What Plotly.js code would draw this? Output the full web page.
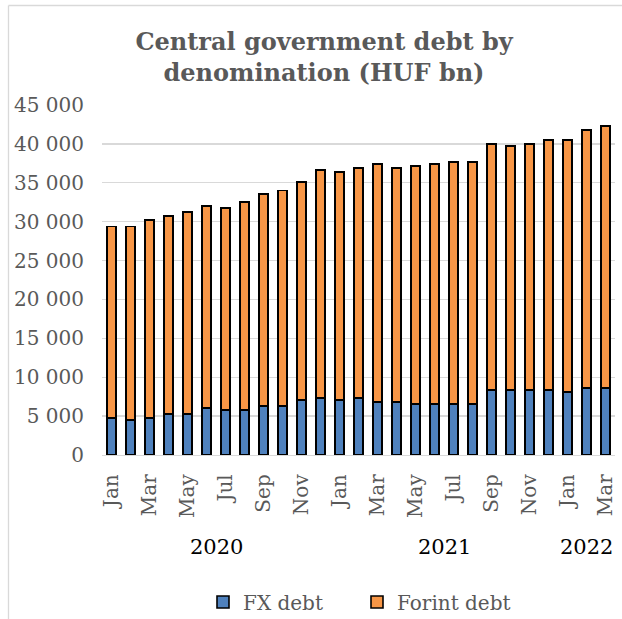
<!DOCTYPE html>
<html>
<head>
<meta charset="utf-8">
<script src="https://cdn.plot.ly/plotly-3.0.1.min.js"></script>
<style>
  html, body { margin: 0; padding: 0; background: #ffffff; }
  #chart { width: 622px; height: 619px; }
</style>
</head>
<body>
<div id="chart"></div>
<script>
// ---- Data (HUF bn), Jan 2020 – Mar 2022 ----
var categories = [
  "Jan 2020","Feb 2020","Mar 2020","Apr 2020","May 2020","Jun 2020",
  "Jul 2020","Aug 2020","Sep 2020","Oct 2020","Nov 2020","Dec 2020",
  "Jan 2021","Feb 2021","Mar 2021","Apr 2021","May 2021","Jun 2021",
  "Jul 2021","Aug 2021","Sep 2021","Oct 2021","Nov 2021","Dec 2021",
  "Jan 2022","Feb 2022","Mar 2022"
];
var monthLabels = [
  "Jan","Feb","Mar","Apr","May","Jun","Jul","Aug","Sep","Oct","Nov","Dec",
  "Jan","Feb","Mar","Apr","May","Jun","Jul","Aug","Sep","Oct","Nov","Dec",
  "Jan","Feb","Mar"
];
var yearOf = [
  "2020","2020","2020","2020","2020","2020","2020","2020","2020","2020","2020","2020",
  "2021","2021","2021","2021","2021","2021","2021","2021","2021","2021","2021","2021",
  "2022","2022","2022"
];
var fxDebt = [
  4720, 4500, 4720, 5280, 5280, 6050, 5790, 5790, 6310, 6310, 7080, 7340,
  7080, 7340, 6820, 6820, 6570, 6570, 6570, 6570, 8370, 8370, 8370, 8370,
  8110, 8630, 8630
];
var forintDebt = [
  24680, 24900, 25490, 25450, 25960, 25970, 25970, 26740, 27250, 27720, 28030, 29270,
  29270, 29530, 30600, 30050, 30550, 30850, 31070, 31070, 31630, 31370, 31630, 32100,
  32360, 33130, 33690
];
var yTickVals = [0, 5000, 10000, 15000, 20000, 25000, 30000, 35000, 40000, 45000];
var seriesNames = ["FX debt", "Forint debt"];
var chartTitle = "Central government debt by<br>denomination (HUF bn)";

// ---- Build ----
var W = 622, H = 619;
var M = { l: 102, r: 7, t: 105, b: 164, autoexpand: false };
var plotW = W - M.l - M.r, plotH = H - M.t - M.b;
function px2x(px) { return (px - M.l) / plotW; }
function py2y(py) { return (H - M.b - py) / plotH; }

// every other month label
var tickVals = [], tickText = [];
for (var i = 0; i < categories.length; i += 2) {
  tickVals.push(categories[i]);
  tickText.push(monthLabels[i]);
}

// year group labels centred on their categories
var years = [];
yearOf.forEach(function (y) { if (years.indexOf(y) < 0) years.push(y); });
var annotations = years.map(function (y) {
  var idx = [];
  yearOf.forEach(function (yy, k) { if (yy === y) idx.push(k); });
  var c = (idx[0] + idx[idx.length - 1]) / 2;
  return {
    x: c, xref: "x", y: py2y(547), yref: "paper",
    text: y, showarrow: false, xanchor: "center", yanchor: "middle",
    font: { family: "DejaVu Serif", size: 21, color: "#000000" }
  };
});

var lineStyle = { color: "#000000", width: 1.6 };
var traces = [
  {
    type: "bar", name: seriesNames[0], x: categories, y: fxDebt,
    marker: { color: "#4F81BD", line: lineStyle }
  },
  {
    type: "bar", name: seriesNames[1], x: categories, y: forintDebt,
    marker: { color: "#F79646", line: lineStyle }
  }
];

var layout = {
  width: W, height: H,
  margin: M,
  paper_bgcolor: "#ffffff", plot_bgcolor: "#ffffff",
  barmode: "stack", bargap: 0.5,
  separators: ". ",
  font: { family: "DejaVu Serif", color: "#595959", size: 20 },
  title: {
    text: chartTitle,
    x: 324 / W, xref: "container", xanchor: "center",
    y: 1 - 50 / H, yref: "container", yanchor: "top",
    font: { family: "DejaVu Serif", size: 24, color: "#595959", weight: "bold" }
  },
  xaxis: {
    type: "category", automargin: false,
    tickmode: "array", tickvals: tickVals, ticktext: tickText,
    tickangle: -90, ticks: "", ticklabelstandoff: 10,
    tickfont: { family: "DejaVu Serif", size: 20, color: "#595959" },
    showgrid: false, showline: true, linecolor: "#d9d9d9", linewidth: 1.3,
    zeroline: false, fixedrange: true
  },
  yaxis: {
    range: [0, 45000], tickmode: "array", tickvals: yTickVals, automargin: false,
    tickformat: ",d", ticks: "", ticklabelstandoff: 17,
    tickfont: { family: "DejaVu Serif", size: 20, color: "#595959" },
    showgrid: true, gridcolor: "#d9d9d9", gridwidth: 1.3,
    zeroline: false, showline: false, fixedrange: true
  },
  showlegend: true,
  legend: {
    orientation: "h", x: px2x(203), xanchor: "left",
    y: py2y(602), yanchor: "middle",
    entrywidth: 109, entrywidthmode: "pixels",
    font: { family: "DejaVu Serif", size: 20, color: "#595959" },
    traceorder: "normal", bgcolor: "rgba(0,0,0,0)"
  },
  annotations: annotations,
  shapes: [
    { type: "line", xref: "paper", yref: "paper",
      x0: px2x(8.5), x1: px2x(8.5), y0: py2y(5.5), y1: py2y(640),
      line: { color: "#d9d9d9", width: 1.3 }, layer: "below" },
    { type: "line", xref: "paper", yref: "paper",
      x0: px2x(8.5), x1: px2x(640), y0: py2y(5.5), y1: py2y(5.5),
      line: { color: "#d9d9d9", width: 1.3 }, layer: "below" }
  ]
};

Plotly.newPlot("chart", traces, layout, { displayModeBar: false, staticPlot: true });
</script>
</body>
</html>
